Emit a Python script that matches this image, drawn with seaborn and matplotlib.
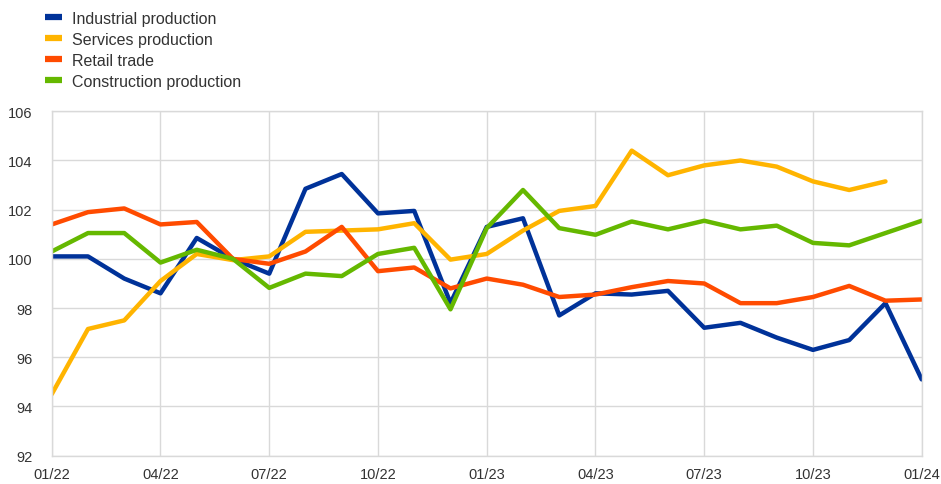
import numpy as np
import pandas as pd
import matplotlib
matplotlib.use("Agg")
import matplotlib.pyplot as plt
import seaborn as sns

# --- DATA ---
months = ["01/22", "02/22", "03/22", "04/22", "05/22", "06/22", "07/22", "08/22", "09/22",
          "10/22", "11/22", "12/22", "01/23", "02/23", "03/23", "04/23", "05/23", "06/23",
          "07/23", "08/23", "09/23", "10/23", "11/23", "12/23", "01/24"]

industrial = [100.1, 100.1, 99.2, 98.6, 100.85, 100.0, 99.4, 102.85, 103.45, 101.85, 101.95,
              98.2, 101.3, 101.65, 97.7, 98.6, 98.55, 98.7, 97.2, 97.4, 96.8, 96.3, 96.7,
              98.2, 95.1]
services = [94.5, 97.15, 97.5, 99.1, 100.2, 99.95, 100.1, 101.1, 101.15, 101.2, 101.45,
            99.97, 100.2, 101.15, 101.95, 102.15, 104.4, 103.4, 103.8, 104.0, 103.75,
            103.15, 102.8, 103.15, np.nan]
retail = [101.4, 101.9, 102.05, 101.4, 101.5, 100.0, 99.8, 100.3, 101.3, 99.5, 99.65, 98.8,
          99.2, 98.95, 98.45, 98.55, 98.85, 99.1, 99.0, 98.2, 98.2, 98.45, 98.9, 98.3, 98.35]
construction = [100.3, 101.05, 101.05, 99.85, 100.37, 100.0, 98.82, 99.4, 99.3, 100.2, 100.45,
                97.95, 101.25, 102.8, 101.25, 100.98, 101.52, 101.2, 101.55, 101.2, 101.35,
                100.65, 100.55, 101.05, 101.55]

series_names = ["Industrial production", "Services production", "Retail trade",
                "Construction production"]
colors = ["#003299", "#ffb400", "#ff4b00", "#65b800"]

yticks = [92, 94, 96, 98, 100, 102, 104, 106]
xtick_pos = [0, 3, 6, 9, 12, 15, 18, 21, 24]

df = pd.DataFrame({
    "month": np.arange(len(months)),
    series_names[0]: industrial,
    series_names[1]: services,
    series_names[2]: retail,
    series_names[3]: construction,
})
long = df.melt(id_vars="month", var_name="series", value_name="value")

# --- PLOT ---
sns.set_style("white")
plt.rcParams["font.family"] = ["Liberation Sans", "DejaVu Sans"]

fig = plt.figure(figsize=(9.41, 4.85), dpi=100)
ax = fig.add_axes([0.055, 0.0584, 0.9245, 0.7101])

sns.lineplot(data=long, x="month", y="value", hue="series", hue_order=series_names,
             palette=colors, linewidth=3.2, ax=ax, legend=False)

ax.set_xlim(0, 24)
ax.set_ylim(92, 106)
ax.set_xticks(xtick_pos)
ax.set_xticklabels([months[i] for i in xtick_pos])
ax.set_yticks(yticks)
ax.set_xlabel("")
ax.set_ylabel("")
ax.grid(True, color="#d9d9d9", linewidth=1)
ax.set_axisbelow(True)
for s in ax.spines.values():
    s.set_color("#d9d9d9")
    s.set_linewidth(1)
ax.tick_params(axis="both", length=0, labelsize=10.5, colors="#333333")
ax.tick_params(axis="x", pad=8)
ax.tick_params(axis="y", pad=14)

handles = [plt.Line2D([], [], color=c, linewidth=4.5, solid_capstyle="butt") for c in colors]
fig.legend(handles, series_names, loc="upper left", bbox_to_anchor=(0.043, 0.986),
           frameon=False, fontsize=11.5, handlelength=1.05, handletextpad=0.65,
           labelspacing=0.38, borderaxespad=0, borderpad=0.3, labelcolor="#333333")

fig.savefig("out.png", dpi=100)
